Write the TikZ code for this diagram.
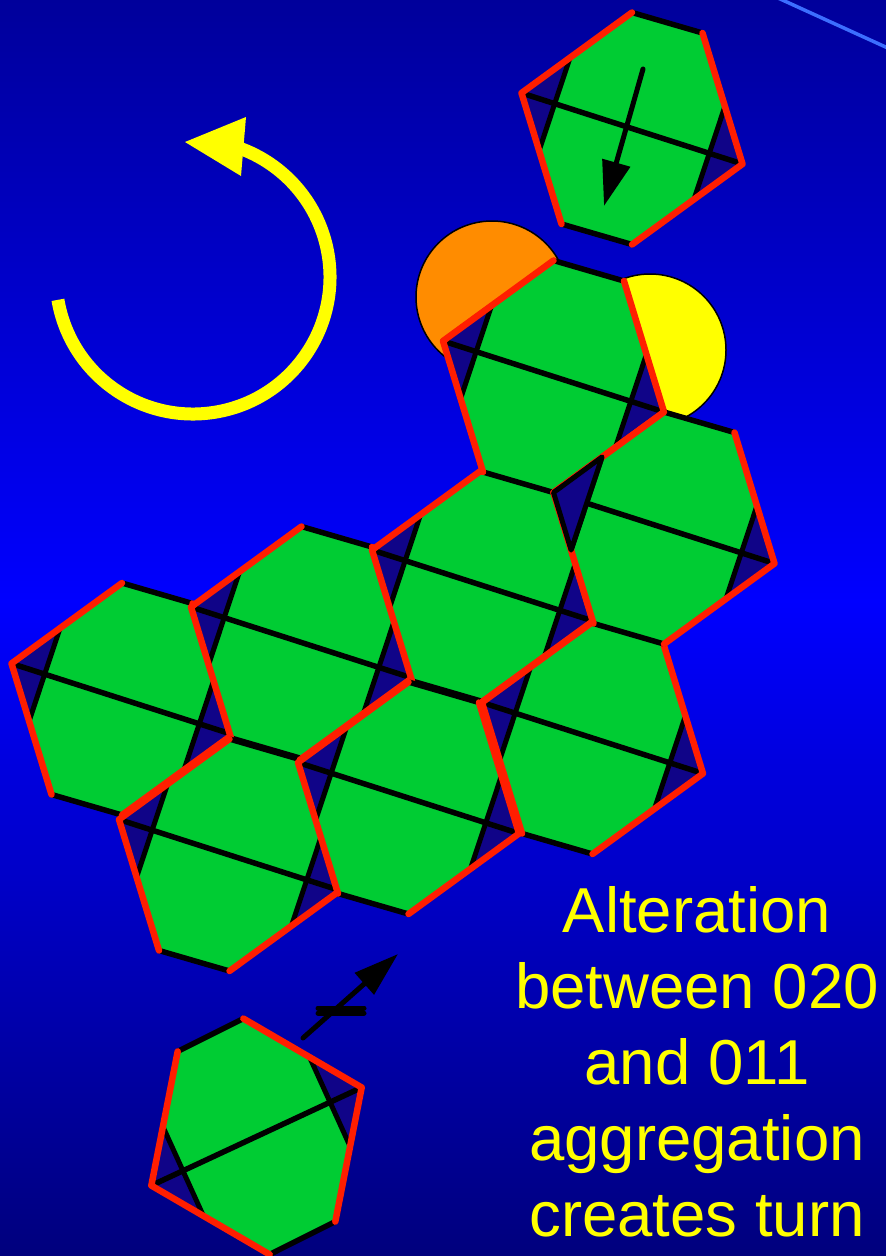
\documentclass[tikz,border=0pt]{standalone}
\usepackage{fontspec}
\setmainfont{Liberation Sans}
\usetikzlibrary{arrows.meta}

\definecolor{bgtop}{RGB}{0,0,155}
\definecolor{bgmid}{RGB}{0,0,255}
\definecolor{bgbot}{RGB}{0,0,125}
\definecolor{cellgreen}{RGB}{0,204,51}
\definecolor{capnavy}{RGB}{16,4,136}
\definecolor{edgered}{RGB}{255,30,0}
\definecolor{lobeorange}{RGB}{255,140,0}
\definecolor{lobeyellow}{RGB}{255,255,0}
\definecolor{rimblue}{RGB}{60,110,255}

\begin{document}
\begin{tikzpicture}[
  x=1pt,
  y=-1pt,
  line cap=round,
  line join=round,
  capfill/.style={fill=capnavy, draw=black, line width=5pt},
  blackedge/.style={draw=black, line width=5.5pt},
  rededge/.style={draw=edgered, line width=6.5pt},
  lobe/.style={draw=black, line width=1.5pt},
  rimline/.style={draw=rimblue, line width=3.5pt},
  pointer/.style={line width=5pt, -{Triangle[length=45pt,width=28pt]}},
  turnarc/.style={draw=lobeyellow, line width=13pt, line cap=butt},
  turntext/.style={text=lobeyellow, align=center, inner sep=0pt,
    font=\fontsize{63.5}{76}\selectfont},
  tile/.pic={
    \coordinate (-a) at (0,-116);
    \coordinate (-b) at (70.5,-95.5);
    \coordinate (-c) at (110.5,35.5);
    \coordinate (-d) at (0,116);
    \coordinate (-e) at (-70.5,95.5);
    \coordinate (-f) at (-110.5,-35.5);
    \coordinate (-fa) at (-61.9,-71.1);
    \coordinate (-fe) at (-92.9,22.1);
    \coordinate (-cb) at (92.9,-22.1);
    \coordinate (-cd) at (61.9,71.1);
    \fill[cellgreen] (-a) -- (-b) -- (-c) -- (-d) -- (-e) -- (-f) -- cycle;
    \filldraw[capfill] (-f) -- (-fa) -- (-fe) -- cycle;
    \filldraw[capfill] (-c) -- (-cb) -- (-cd) -- cycle;
    \draw[blackedge] (-f) -- (-c);
    \draw[blackedge] (-a) -- (-b) (-d) -- (-e);
    \draw[rededge] (-f) -- (-a) (-b) -- (-c) -- (-d) (-e) -- (-f);
  }
]
\useasboundingbox (0,0) rectangle (886,1256);
\clip (0,0) rectangle (886,1256);
\shade[top color=bgtop, bottom color=bgmid] (0,0) rectangle (886,601);
\shade[top color=bgmid, bottom color=bgbot] (0,600) rectangle (886,1256);
\draw[rimline] (778,-2) -- (890,49);

\draw[turnarc] (193,277) ++(170.4:137) arc[start angle=170.4, end angle=-71, radius=137];
\coordinate (turntip) at (185,142);
\fill[lobeyellow] (turntip) -- (246,117) -- (241,176) -- cycle;

\filldraw[lobe, fill=lobeorange] (492,297) circle[radius=76];
\filldraw[lobe, fill=lobeyellow] (650,350) circle[radius=76];

\pic (t6) at (122,699) {tile};
\pic (t5) at (301.5,642.5) {tile};
\pic (t4) at (482.5,585.5) {tile};
\pic (t9) at (229.5,855) {tile};
\pic (t8) at (408.5,798) {tile};
\pic (t7) at (592.5,738) {tile};
\pic (t2) at (553.5,376.5) {tile};
\pic (t3) at (664,528) {tile};
\pic (t1) at (632,128.5) {tile};
\pic[rotate=42.8] (t10) at (256.5,1136.5) {tile};
\filldraw[capfill] (t3-f) -- (t3-fa) -- (t3-fe) -- cycle;

\coordinate (dropstart) at (643,69);
\coordinate (droptip) at (604,206);
\draw[pointer] (dropstart) -- (droptip);

\coordinate (riseStart) at (303,1038);
\coordinate (riseTip) at (398,954);
\draw[pointer] (riseStart) -- (riseTip);
\draw[line width=5pt] (318,1008) -- (364,1008) (318,1013) -- (364,1013);

\node[turntext, anchor=north] (caption) at (697,886.5) {Alteration\\between 020\\and 011\\aggregation\\creates turn};
\end{tikzpicture}
\end{document}
